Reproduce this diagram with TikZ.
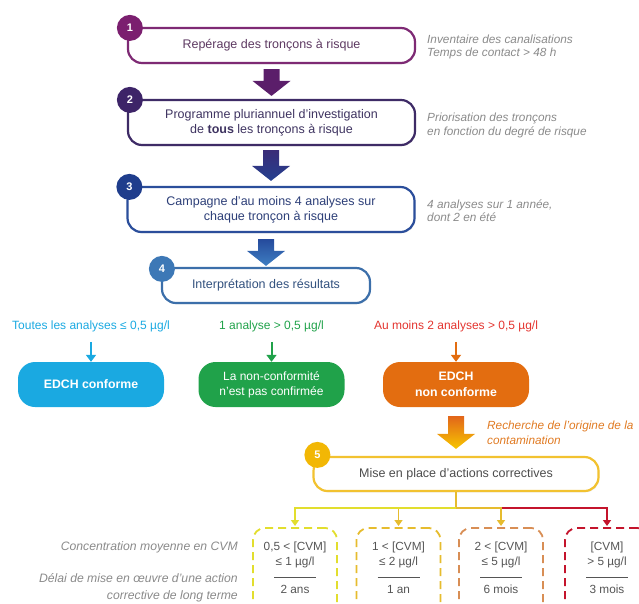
\documentclass[tikz,border=0pt]{standalone}
\usepackage{fontspec}
\setmainfont{Liberation Sans}
\usetikzlibrary{calc,arrows.meta,shadows}
\definecolor{c1}{HTML}{7B1F6F}
\definecolor{c2}{HTML}{3D2468}
\definecolor{c3}{HTML}{1F3D8C}
\definecolor{c4}{HTML}{3D78B6}
\definecolor{c5}{HTML}{F2B705}
\definecolor{bd1}{HTML}{7E2A74}
\definecolor{bd2}{HTML}{3E2B66}
\definecolor{bd3}{HTML}{2B4E9B}
\definecolor{bd4}{HTML}{3C6FAA}
\definecolor{bd5}{HTML}{F2C230}
\definecolor{t1}{HTML}{5E3A62}
\definecolor{t2}{HTML}{3F3461}
\definecolor{t3}{HTML}{2D3F78}
\definecolor{t4}{HTML}{33527F}
\definecolor{t5}{HTML}{4D4D4D}
\definecolor{gtxt}{HTML}{8A8A8A}
\definecolor{cyanc}{HTML}{1AA9E1}
\definecolor{greenc}{HTML}{20A24A}
\definecolor{orangec}{HTML}{E36D10}
\definecolor{redc}{HTML}{E3342F}
\definecolor{orangetxt}{HTML}{E07A22}
\definecolor{yelc}{HTML}{E2DE2E}
\definecolor{goldc}{HTML}{E6BC2E}
\definecolor{tanc}{HTML}{D88E55}
\definecolor{redd}{HTML}{C4142C}
\definecolor{dtxt}{HTML}{555555}
\definecolor{a1}{HTML}{5B1E6A}
\definecolor{a2top}{HTML}{3A2C78}
\definecolor{a2bot}{HTML}{24408F}
\definecolor{a3top}{HTML}{254A9C}
\definecolor{a3bot}{HTML}{3F7FC2}
\definecolor{a4top}{HTML}{E2661A}
\definecolor{a4bot}{HTML}{F7C600}
\newcommand\fatarrow[3]{\path[#1] let \p1=(#2), \p2=(#3) in
  (\x2-8pt,\y1) -- (\x2+8pt,\y1) -- (\x2+8pt,\y2+15pt) -- (\x2+19pt,\y2+15pt)
  -- (\x2,\y2) -- (\x2-19pt,\y2+15pt) -- (\x2-8pt,\y2+15pt) -- cycle;}
\newcommand\cvmtext[4]{%
  \node[cvm] at ($(#1.north)+(0,20)$) {#2};
  \node[cvm] at ($(#1.north)+(0,35)$) {#3};
  \draw[dtxt, line width=0.7pt] ($(#1.north)+(-21,50)$) -- ($(#1.north)+(21,50)$);
  \node[cvm] at ($(#1.north)+(0,62)$) {#4};}
\begin{document}
\begin{tikzpicture}[x=1pt,y=-1pt,
  numbox/.style={draw, line width=2.2pt, rounded corners=14pt, fill=white, align=center,
    minimum width=287pt, minimum height=35pt, inner sep=0pt,
    drop shadow={opacity=0.18, shadow xshift=0.8pt, shadow yshift=-1.3pt},
    font=\fontsize{12.5}{15}\selectfont},
  numcirc/.style={circle, fill=#1, minimum size=26pt, inner sep=0pt, text=white,
    font=\bfseries\fontsize{11}{12}\selectfont},
  resbox/.style={rounded corners=17pt, fill=#1, minimum width=146pt, minimum height=45pt,
    inner sep=0pt, text=white, align=center, font=\fontsize{12}{15}\selectfont},
  reslabel/.style={text=#1, inner sep=1pt, font=\fontsize{12}{14}\selectfont},
  resarrow/.style={draw=#1, line width=2pt, -{Triangle[width=10pt,length=7pt]}},
  graytxt/.style={text=gtxt, inner sep=0pt, font=\itshape\fontsize{11.8}{13.5}\selectfont, align=left},
  dashbox/.style={draw=#1, dash pattern=on 8pt off 5pt, line width=1.8pt, rounded corners=12pt,
    minimum width=84pt, minimum height=110pt, anchor=north, inner sep=0pt},
  cvm/.style={text=dtxt, inner sep=0pt, font=\fontsize{11.8}{13}\selectfont},
  connarrow/.style={draw=#1, line width=1.8pt, -{Triangle[width=8pt,length=6pt]}, shorten >=1pt}
]
\useasboundingbox (0,0) rectangle (639,603);
\clip (0,0) rectangle (639,603);

% numbered steps
\node[numbox, draw=bd1, text=t1] (b1) at (271.5,45.5) {Repérage des tronçons à risque};
\node[numbox, draw=bd2, text=t2, minimum height=45pt] (b2) at (271.5,122.5)
  {Programme pluriannuel d'investigation\\de \textbf{tous} les tronçons à risque};
\node[numbox, draw=bd3, text=t3, minimum height=45pt] (b3) at (271,209.5)
  {Campagne d'au moins 4 analyses sur\\chaque tronçon à risque};
\node[numbox, draw=bd4, text=t4, minimum width=208pt] (b4) at (266,285.5) {Interprétation des résultats};
\node[numbox, draw=bd5, text=t5, minimum width=285pt, minimum height=34pt] (b5) at (456,474)
  {Mise en place d'actions correctives};

\node[numcirc=c1] (n1) at ($(b1.north west)+(3,1)$) {1};
\node[numcirc=c2] (n2) at ($(b2.north west)+(3,1)$) {2};
\node[numcirc=c3] (n3) at ($(b3.north west)+(3,1)$) {3};
\node[numcirc=c4] (n4) at ($(b4.north west)+(1,2)$) {4};
\node[numcirc=c5] (n5) at ($(b5.north west)+(5,-1)$) {5};

% fat arrows
\fatarrow{fill=a1}{$(b1.south)+(0,5)$}{$(b2.north)+(0,-3)$}
\fatarrow{top color=a2top, bottom color=a2bot}{$(b2.south)+(0,4)$}{$(b3.north)+(0,-5)$}
\fatarrow{top color=a3top, bottom color=a3bot}{$(b3.south)+(0,6)$}{$(b4.north)+(0,-1)$}

% side notes
\node[graytxt, anchor=west] (r1) at (427,47) {Inventaire des canalisations\\Temps de contact > 48 h};
\node[graytxt, anchor=west] (r2) at (427,125.5) {Priorisation des tronçons\\en fonction du degré de risque};
\node[graytxt, anchor=west] (r3) at (427,210.5) {4 analyses sur 1 année,\\dont 2 en été};

% results
\node[reslabel=cyanc] (l1) at (91,326) {Toutes les analyses ≤ 0,5 µg/l};
\node[reslabel=greenc] (l2) at (271.5,326) {1 analyse > 0,5 µg/l};
\node[reslabel=redc] (l3) at (456,326) {Au moins 2 analyses > 0,5 µg/l};

\node[resbox=cyanc, font=\bfseries\fontsize{12.3}{15}\selectfont] (e1) at (91,384.5) {EDCH conforme};
\node[resbox=greenc] (e2) at (271.5,384.5) {La non-conformité\\n'est pas confirmée};
\node[resbox=orangec, font=\bfseries\fontsize{12.3}{16}\selectfont] (e3) at (456,384.5) {EDCH\\non conforme};

\draw[resarrow=cyanc] ([yshift=-9pt]l1.south) -- (e1.north);
\draw[resarrow=greenc] ([yshift=-9pt]l2.south) -- (e2.north);
\draw[resarrow=orangec] ([yshift=-9pt]l3.south) -- (e3.north);

\fatarrow{top color=a4top, bottom color=a4bot}{$(e3.south)+(0,9)$}{$(b5.north)+(0,-7)$}
\node[anchor=west, text=orangetxt, inner sep=0pt, align=left,
  font=\itshape\fontsize{11.8}{15}\selectfont] (rc) at (487,432.5)
  {Recherche de l'origine de la\\contamination};

% corrective actions
\node[dashbox=yelc] (dA) at (295,527) {};
\node[dashbox=goldc] (dB) at (398.5,527) {};
\node[dashbox=tanc] (dC) at (501,527) {};
\node[dashbox=redd] (dD) at (607,527) {};

\coordinate (j) at ($(b5.south)+(0,16)$);
\draw[draw=goldc, line width=1.8pt] (b5.south) -- (j);
\draw[connarrow=redd] (j) -| (dD.north);
\draw[connarrow=goldc] (j) -| (dC.north);
\draw[connarrow=goldc] (j) -| (dB.north);
\draw[connarrow=yelc] (j) -| (dA.north);

\cvmtext{dA}{0,5 < [CVM]}{≤ 1 µg/l}{2 ans}
\cvmtext{dB}{1 < [CVM]}{≤ 2 µg/l}{1 an}
\cvmtext{dC}{2 < [CVM]}{≤ 5 µg/l}{6 mois}
\cvmtext{dD}{[CVM]}{> 5 µg/l}{3 mois}

\node[graytxt, anchor=east, align=right, font=\itshape\fontsize{12.2}{17}\selectfont] (g1) at (238,547)
  {Concentration moyenne en CVM};
\node[graytxt, anchor=east, align=right, font=\itshape\fontsize{12.2}{17}\selectfont] (g2) at (238,587.5)
  {Délai de mise en œuvre d'une action\\corrective de long terme};
\end{tikzpicture}
\end{document}
